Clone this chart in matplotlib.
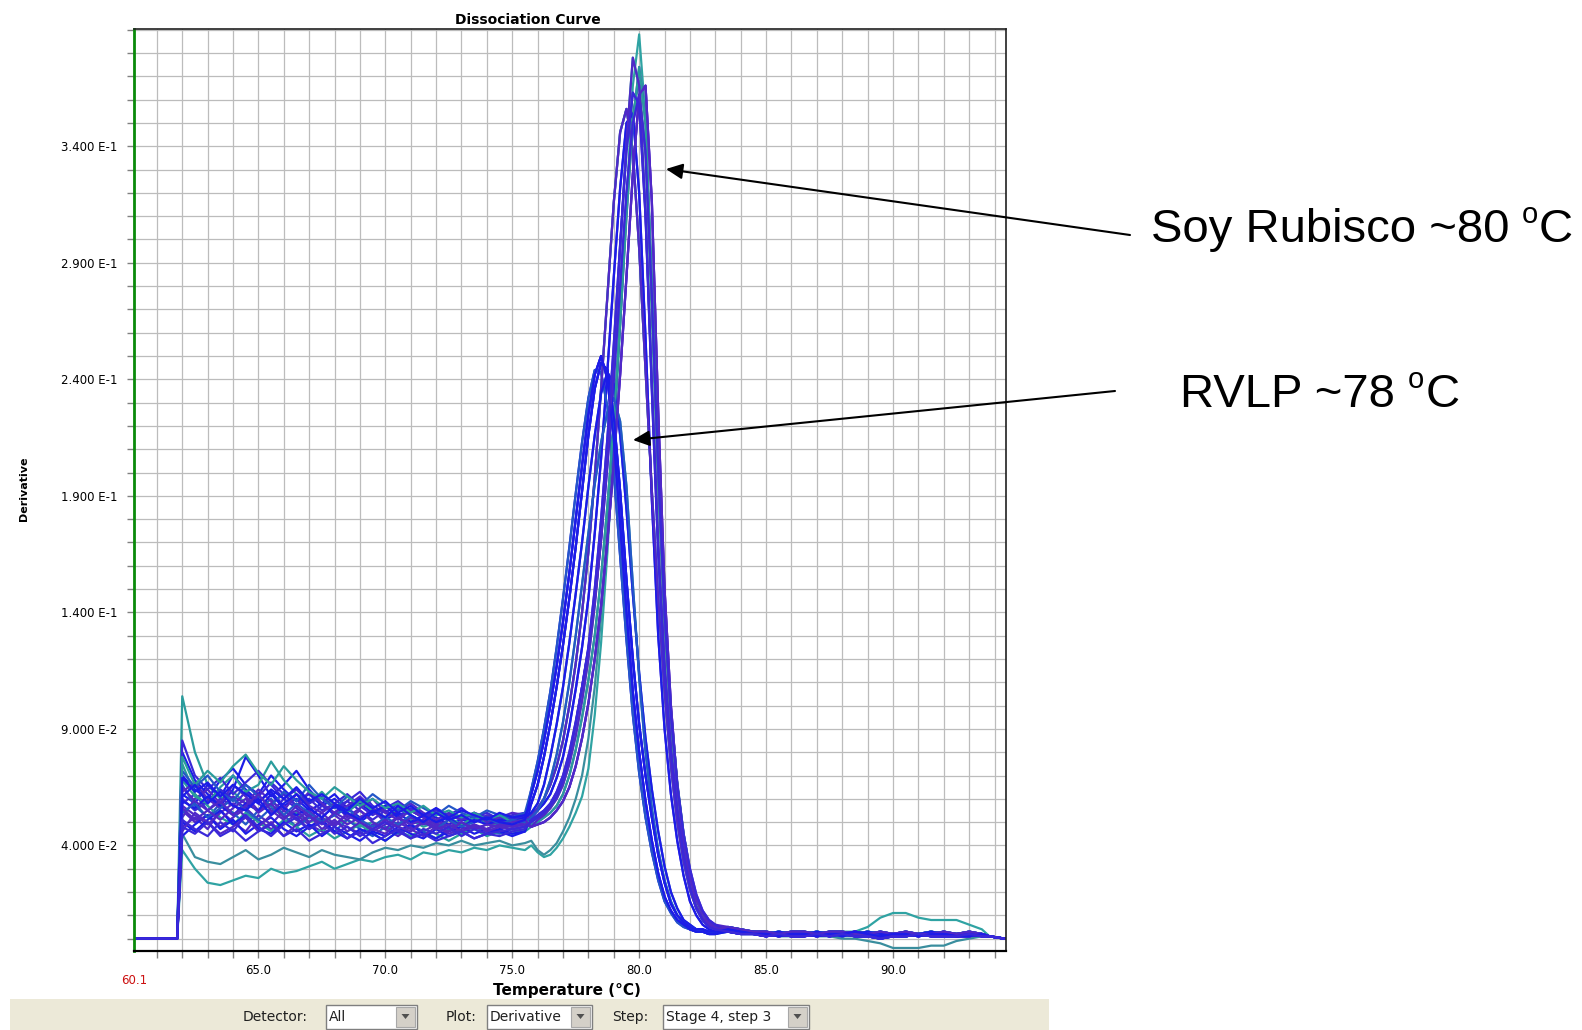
import numpy as np
import matplotlib
matplotlib.use('Agg')
import matplotlib.pyplot as plt
from matplotlib.patches import Rectangle, Polygon, FancyArrowPatch
from matplotlib.ticker import FixedLocator, MultipleLocator

# ---- data (derivative values in units of 1e-3) ----
START_TEMPS = [60.1, 61.8]
START_VALUES = [0, 0]
PLATEAU_TEMPS = [62.0, 62.5, 63.0, 63.5, 64.0, 64.5, 65.0, 65.5, 66.0, 66.5,
                 67.0, 67.5, 68.0, 68.5, 69.0, 69.5, 70.0, 70.5, 71.0, 71.5,
                 72.0, 72.5, 73.0, 73.5, 74.0, 74.5, 75.0, 75.5]
PEAK_TEMPS = [75.75, 76.0, 76.25, 76.5, 76.75, 77.0, 77.25, 77.5, 77.75, 78.0,
              78.25, 78.5, 78.75, 79.0, 79.25, 79.5, 79.75, 80.0, 80.25, 80.5,
              80.75, 81.0, 81.25, 81.5, 81.75, 82.0, 82.25, 82.5, 82.75, 83.0]
TAIL_TEMPS = [83.5, 84.0, 84.5, 85.0, 85.5, 86.0, 86.5, 87.0, 87.5, 88.0,
              88.5, 89.0, 89.5, 90.0, 90.5, 91.0, 91.5, 92.0, 92.5, 93.0, 93.5]
END_TEMPS = [93.8, 94.4]
END_VALUES = [1, 0]

PLATEAUS = [
    [104, 80, 66, 60, 63, 58, 55, 57, 52, 54, 50, 52, 49, 51, 48, 50, 47, 49, 51, 48, 50, 47, 49, 48, 46, 48, 47, 46],
    [38, 30, 24, 23, 25, 27, 26, 30, 28, 29, 31, 33, 30, 32, 34, 33, 35, 36, 34, 37, 36, 38, 37, 39, 38, 40, 39, 38],
    [45, 35, 33, 32, 35, 38, 34, 36, 39, 37, 35, 38, 36, 35, 34, 37, 39, 38, 40, 39, 41, 40, 42, 40, 41, 42, 40, 41],
    [62, 58, 66, 61, 70, 64, 59, 63, 57, 60, 55, 58, 53, 56, 52, 55, 51, 54, 50, 53, 52, 49, 51, 50, 52, 49, 51, 52],
    [55, 50, 53, 48, 52, 56, 51, 47, 50, 53, 49, 46, 50, 48, 45, 49, 47, 44, 48, 46, 49, 47, 45, 48, 46, 47, 49, 50],
    [70, 64, 60, 68, 73, 66, 62, 70, 64, 59, 62, 57, 60, 55, 58, 54, 57, 53, 55, 52, 54, 51, 53, 52, 50, 52, 51, 53],
    [48, 52, 47, 55, 50, 46, 53, 49, 55, 51, 47, 52, 48, 54, 50, 46, 49, 52, 47, 50, 48, 51, 46, 49, 47, 50, 48, 49],
    [80, 68, 62, 57, 64, 78, 70, 61, 66, 72, 64, 58, 62, 56, 60, 55, 52, 56, 53, 50, 54, 51, 49, 52, 50, 48, 50, 51],
    [58, 62, 55, 60, 57, 63, 58, 54, 60, 56, 52, 57, 54, 59, 55, 51, 55, 52, 56, 53, 50, 53, 51, 54, 51, 50, 52, 53],
    [66, 57, 52, 58, 54, 49, 55, 60, 53, 48, 52, 50, 46, 51, 47, 44, 48, 45, 49, 46, 43, 47, 45, 48, 46, 45, 47, 48],
    [52, 60, 64, 58, 66, 61, 55, 58, 62, 57, 63, 58, 54, 57, 61, 56, 52, 55, 58, 54, 51, 54, 52, 50, 53, 51, 50, 52],
    [75, 62, 57, 52, 49, 54, 50, 46, 51, 48, 44, 47, 43, 46, 49, 45, 42, 46, 44, 47, 45, 42, 45, 47, 44, 46, 45, 47],
    [60, 55, 59, 64, 60, 56, 61, 67, 62, 57, 60, 55, 58, 62, 57, 53, 56, 59, 55, 52, 55, 53, 56, 52, 54, 51, 53, 54],
    [44, 49, 53, 47, 51, 45, 49, 52, 47, 44, 48, 51, 46, 43, 47, 45, 42, 46, 49, 45, 43, 46, 48, 45, 47, 46, 44, 46],
    [68, 61, 58, 65, 70, 63, 66, 76, 68, 62, 58, 63, 57, 54, 59, 55, 52, 56, 53, 50, 54, 52, 49, 52, 50, 48, 50, 49],
    [57, 53, 49, 54, 58, 52, 48, 53, 57, 51, 55, 50, 53, 49, 52, 55, 50, 48, 52, 49, 51, 48, 50, 47, 49, 50, 48, 50],
    [85, 70, 64, 69, 62, 67, 72, 66, 60, 64, 58, 61, 56, 59, 63, 57, 54, 58, 55, 52, 56, 53, 51, 54, 52, 53, 51, 52],
    [50, 46, 51, 55, 49, 53, 47, 45, 50, 46, 49, 44, 48, 45, 42, 46, 44, 48, 45, 43, 47, 44, 46, 43, 45, 47, 45, 46],
    [63, 67, 60, 56, 61, 58, 64, 59, 55, 62, 57, 54, 58, 52, 56, 60, 54, 51, 55, 52, 49, 53, 51, 54, 50, 52, 54, 53],
    [72, 65, 70, 63, 59, 66, 61, 57, 63, 59, 66, 60, 56, 61, 57, 62, 58, 55, 59, 56, 53, 57, 54, 52, 55, 53, 52, 54],
    [46, 54, 50, 45, 48, 52, 46, 50, 44, 49, 53, 47, 51, 46, 50, 47, 45, 50, 47, 44, 48, 45, 47, 49, 46, 48, 47, 48],
    [59, 56, 61, 57, 53, 58, 55, 62, 56, 53, 56, 52, 57, 53, 50, 54, 57, 52, 49, 53, 50, 52, 48, 51, 49, 51, 50, 52],
    [78, 66, 72, 67, 74, 79, 71, 66, 74, 68, 63, 60, 65, 61, 57, 60, 56, 58, 54, 57, 53, 55, 52, 54, 51, 53, 50, 51],
    [54, 58, 52, 56, 60, 55, 51, 56, 53, 58, 54, 50, 53, 56, 51, 48, 52, 49, 53, 50, 47, 51, 48, 50, 52, 49, 51, 50],
    [65, 59, 55, 51, 56, 60, 54, 58, 52, 55, 50, 54, 49, 53, 50, 47, 51, 48, 46, 50, 47, 49, 46, 48, 47, 49, 48, 49],
    [48, 45, 50, 44, 47, 42, 46, 49, 44, 47, 42, 45, 48, 43, 46, 41, 44, 47, 43, 45, 42, 44, 46, 43, 45, 44, 46, 47],
    [69, 63, 67, 61, 66, 62, 58, 64, 60, 65, 59, 62, 58, 55, 60, 56, 59, 54, 57, 53, 56, 52, 55, 53, 51, 54, 52, 53],
    [56, 51, 55, 59, 53, 57, 62, 55, 51, 57, 53, 49, 54, 51, 55, 50, 47, 52, 49, 51, 48, 46, 50, 47, 49, 48, 50, 51],
    [61, 66, 58, 63, 57, 55, 60, 53, 58, 62, 56, 52, 57, 54, 51, 55, 52, 57, 53, 50, 54, 51, 53, 50, 52, 50, 49, 51],
    [51, 47, 44, 50, 46, 53, 48, 44, 49, 52, 47, 50, 45, 48, 44, 47, 50, 46, 43, 47, 45, 48, 44, 47, 45, 46, 47, 48],
]

# melt peaks: RVLP ~78 C, soy Rubisco ~80 C
PEAKS = {
    'rvlp_a': [58, 66, 78, 92, 108, 126, 146, 168, 192, 216, 236, 247, 244, 224, 192, 154, 120, 92, 70, 52, 36, 24, 15, 10, 7, 5, 4, 4, 3, 3],
    'rvlp_b': [54, 58, 66, 78, 92, 108, 127, 148, 170, 194, 216, 234, 243, 238, 216, 184, 148, 114, 86, 64, 46, 31, 20, 13, 8, 6, 4, 3, 3, 2],
    'rvlp_c': [62, 72, 85, 100, 117, 136, 157, 180, 203, 225, 242, 250, 240, 214, 178, 140, 106, 80, 59, 42, 28, 18, 12, 8, 6, 4, 3, 3, 2, 2],
    'rvlp_d': [52, 55, 60, 68, 79, 93, 110, 130, 152, 174, 195, 213, 226, 232, 222, 194, 152, 112, 80, 56, 38, 25, 16, 10, 7, 5, 4, 3, 3, 2],
    'rvlp_e': [64, 76, 90, 106, 125, 146, 168, 191, 213, 232, 244, 243, 228, 200, 164, 128, 96, 71, 52, 37, 25, 16, 11, 7, 5, 4, 3, 3, 2, 2],
    'rub_a': [50, 52, 54, 57, 61, 68, 78, 92, 108, 125, 150, 180, 215, 255, 298, 338, 363, 358, 310, 235, 165, 115, 80, 55, 36, 22, 13, 8, 5, 4],
    'rub_b': [49, 50, 52, 54, 57, 62, 70, 81, 95, 111, 130, 155, 186, 222, 264, 310, 350, 374, 350, 282, 205, 142, 98, 67, 45, 29, 18, 11, 7, 5],
    'rub_c': [52, 55, 58, 62, 69, 78, 91, 107, 125, 146, 174, 206, 244, 284, 322, 350, 354, 320, 258, 188, 130, 90, 62, 42, 27, 16, 10, 6, 4, 3],
    'rub_d': [40, 37, 35, 36, 39, 43, 48, 54, 61, 73, 96, 127, 166, 212, 262, 316, 366, 388, 352, 276, 196, 135, 92, 62, 41, 26, 16, 10, 7, 5],
    'rub_e': [48, 51, 53, 56, 60, 66, 75, 87, 102, 120, 143, 172, 208, 250, 296, 342, 378, 366, 312, 238, 170, 118, 82, 56, 37, 23, 14, 9, 6, 4],
    'rub_f': [51, 53, 55, 58, 63, 70, 80, 93, 108, 124, 145, 171, 203, 240, 280, 320, 350, 362, 338, 276, 202, 140, 96, 66, 45, 30, 19, 12, 8, 6],
    'rub_g': [42, 38, 36, 38, 41, 46, 52, 60, 70, 86, 108, 138, 176, 220, 268, 316, 354, 368, 336, 266, 192, 134, 92, 63, 42, 27, 17, 11, 7, 5],
    'rub_h': [53, 56, 60, 66, 74, 85, 100, 118, 140, 166, 198, 236, 276, 316, 346, 356, 338, 296, 244, 192, 146, 106, 74, 50, 33, 21, 13, 8, 5, 4],
    'rub_i': [48, 49, 50, 52, 55, 59, 65, 74, 86, 101, 120, 143, 171, 204, 242, 284, 328, 362, 366, 316, 226, 150, 100, 66, 43, 27, 17, 11, 7, 5],
}

TAILS = [
    [4, 3, 3, 2, 3, 2, 2, 3, 2, 1, 2, 3, 2, 2, 1, 2, 3, 2, 2, 2, 2],
    [5, 4, 3, 3, 2, 3, 3, 2, 3, 3, 2, 2, 3, 2, 3, 2, 2, 3, 2, 3, 2],
    [3, 2, 2, 1, 2, 1, 1, 2, 1, 2, 1, 1, 0, 1, 1, 2, 1, 1, 1, 2, 1],
    [4, 3, 2, 2, 1, 2, 2, 1, 2, 2, 3, 2, 1, 2, 2, 1, 2, 2, 1, 1, 2],
    [4, 3, 3, 3, 2, 3, 3, 2, 3, 3, 3, 5, 9, 11, 11, 9, 8, 8, 8, 6, 4],
    [3, 2, 2, 2, 1, 1, 2, 1, 1, 0, 0, -1, -2, -4, -4, -4, -3, -3, -1, 0, 1],
]

CURVE_PEAK = ['rub_e', 'rub_d', 'rub_g', 'rvlp_a', 'rub_h', 'rvlp_c', 'rub_b', 'rvlp_e',
              'rub_c', 'rvlp_b', 'rub_i', 'rvlp_d', 'rub_a', 'rvlp_a', 'rub_h', 'rub_i',
              'rvlp_c', 'rub_c', 'rub_f', 'rvlp_e', 'rub_h', 'rvlp_b', 'rub_b', 'rvlp_d',
              'rub_i', 'rub_f', 'rvlp_a', 'rub_e', 'rvlp_c', 'rub_a']
CURVE_TAIL = [1, 4, 5, 0, 2, 3, 0, 1, 3, 2, 0, 1, 3, 2, 0, 1, 3, 2, 1, 0, 3, 2, 0, 1, 3, 2, 0, 1, 3, 2]
CURVE_COLOR = ['#2a9c9c', '#2fa3a3', '#3a8e9e', '#1c1ce8', '#5028c8', '#1c1ce8', '#5028c8', '#1c1ce8',
               '#3a28d8', '#2457c8', '#5028c8', '#2a9c9c', '#3a28d8', '#1c1ce8', '#2a9c9c', '#5028c8',
               '#3a28d8', '#1c1ce8', '#5028c8', '#2457c8', '#5028c8', '#1c1ce8', '#2a9c9c', '#2457c8',
               '#5028c8', '#3a28d8', '#1c1ce8', '#5028c8', '#1c1ce8', '#3a28d8']

X_TICKS = [65, 70, 75, 80, 85, 90]
X_TICK_LABELS = ['65.0', '70.0', '75.0', '80.0', '85.0', '90.0']
Y_TICKS = [0.04, 0.09, 0.14, 0.19, 0.24, 0.29, 0.34]
Y_TICK_LABELS = ['4.000 E-2', '9.000 E-2', '1.400 E-1', '1.900 E-1',
                 '2.400 E-1', '2.900 E-1', '3.400 E-1']

W, H = 1582, 1030
plt.rcParams['font.family'] = ['DejaVu Sans']

fig = plt.figure(figsize=(W / 100, H / 100), dpi=100)
renderer = fig.canvas.get_renderer()


def fx(px):
    return px / W


def fy(py):
    return 1 - py / H


def px_rect(x0, y0, x1, y1, **kw):
    return Rectangle((fx(x0), fy(y1)), fx(x1) - fx(x0), fy(y0) - fy(y1),
                     transform=fig.transFigure, **kw)


def degree_label(x, y, main, gap):
    # big label followed by a small raised "o" and "C", like the slide text
    kw = dict(ha='left', va='baseline', family='Liberation Sans', color='black')
    t = fig.text(fx(x), fy(y), main, fontsize=34, **kw)
    bb = t.get_window_extent(renderer)
    o = fig.text((bb.x1 + gap) / W, fy(y - 19), 'o', fontsize=21, **kw)
    ob = o.get_window_extent(renderer)
    fig.text((ob.x1 + 1) / W, fy(y), 'C', fontsize=34, **kw)


ax = fig.add_axes([fx(134), fy(951), fx(1006) - fx(134), fy(29) - fy(951)])

temps = START_TEMPS + PLATEAU_TEMPS + PEAK_TEMPS + TAIL_TEMPS + END_TEMPS
for plateau, peak, tail, color in zip(PLATEAUS, CURVE_PEAK, CURVE_TAIL, CURVE_COLOR):
    vals = START_VALUES + plateau + PEAKS[peak] + TAILS[tail] + END_VALUES
    ax.plot(temps, np.array(vals) / 1000.0, color=color, lw=1.6)

ax.set_xlim(60.1, 94.45)
ax.set_ylim(-0.0053, 0.3903)
ax.xaxis.set_major_locator(FixedLocator(X_TICKS))
ax.set_xticklabels(X_TICK_LABELS)
ax.xaxis.set_minor_locator(MultipleLocator(1))
ax.yaxis.set_major_locator(FixedLocator(Y_TICKS))
ax.set_yticklabels(Y_TICK_LABELS)
ax.yaxis.set_minor_locator(MultipleLocator(0.01))
ax.grid(which='both', color='#bcbcbc', lw=0.9)
ax.set_axisbelow(True)
ax.tick_params(which='both', direction='out', length=5, width=1, color='#808080',
               labelsize=8.5)
ax.tick_params(axis='y', pad=7)
ax.tick_params(axis='x', pad=4)

ax.spines['left'].set_color('#0a8a0a')
ax.spines['left'].set_linewidth(2.0)
ax.spines['bottom'].set_color('black')
ax.spines['bottom'].set_linewidth(1.6)
for s in ('top', 'right'):
    ax.spines[s].set_color('#202020')
    ax.spines[s].set_linewidth(1.2)

fig.text(fx(528), fy(20), 'Dissociation Curve', ha='center', va='center',
         fontsize=10, fontweight='bold')
fig.text(fx(24), fy(489), 'Derivative', rotation=90, ha='center', va='center',
         fontsize=8, fontweight='bold')
fig.text(fx(567), fy(990), 'Temperature (°C)', ha='center', va='center',
         fontsize=11, fontweight='bold')
fig.text(fx(134), fy(980), '60.1', ha='center', va='center', fontsize=8.5, color='#cc1010')

# toolbar strip at the bottom
fig.add_artist(px_rect(10, 999, 1049, 1031, facecolor='#ece9d8', edgecolor='none'))
for label, lx in [('Detector:', 243), ('Plot:', 446), ('Step:', 612)]:
    fig.text(fx(lx), fy(1017), label, ha='left', va='center', fontsize=10, color='#202020')
for text, x0, x1 in [('All', 326, 417), ('Derivative', 487, 592), ('Stage 4, step 3', 663, 809)]:
    fig.add_artist(px_rect(x0, 1005, x1, 1029, facecolor='white', edgecolor='#7f7f7f', lw=1))
    fig.add_artist(px_rect(x1 - 21, 1007, x1 - 2, 1027, facecolor='#d4d0c8', edgecolor='#a8a8a8', lw=0.8))
    cx = x1 - 11.5
    fig.add_artist(Polygon([(fx(cx - 4), fy(1014)), (fx(cx + 4), fy(1014)), (fx(cx), fy(1019))],
                           closed=True, transform=fig.transFigure, facecolor='#505050',
                           edgecolor='none'))
    fig.text(fx(x0 + 3), fy(1017), text, ha='left', va='center', fontsize=10, color='#202020')

# annotations
for tail, tip in [((1130, 235), (666, 169)), ((1115, 391), (633, 440))]:
    fig.add_artist(FancyArrowPatch((fx(tail[0]), fy(tail[1])), (fx(tip[0]), fy(tip[1])),
                                   transform=fig.transFigure,
                                   arrowstyle='-|>,head_length=1.0,head_width=0.47',
                                   mutation_scale=10, color='black', lw=1.5,
                                   shrinkA=0, shrinkB=0))
degree_label(1151, 242, 'Soy Rubisco ~80', 12)
degree_label(1180, 407, 'RVLP ~78', 13)

fig.savefig('out.png', dpi=100, facecolor='white')
